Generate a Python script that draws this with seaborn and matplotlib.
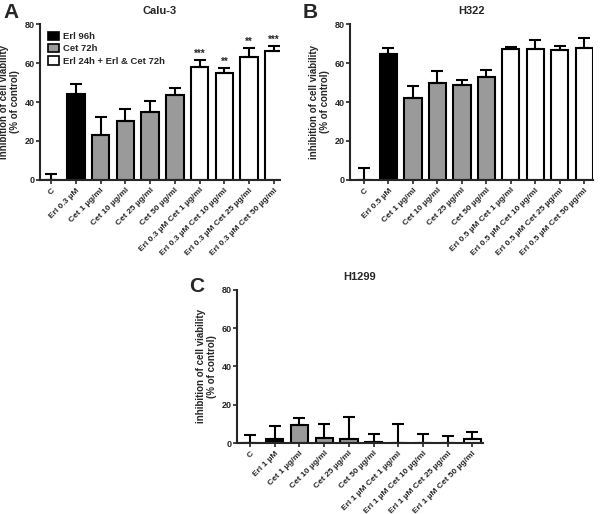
import numpy as np
import pandas as pd
import matplotlib.pyplot as plt
import seaborn as sns
from matplotlib.patches import Patch

# =========================================
# DATA
# =========================================

labels_a = ["C", "Erl 0.3 µM", "Cet 1 µg/ml", "Cet 10 µg/ml", "Cet 25 µg/ml", "Cet 50 µg/ml",
            "Erl 0.3 µM Cet 1 µg/ml", "Erl 0.3 µM Cet 10 µg/ml",
            "Erl 0.3 µM Cet 25 µg/ml", "Erl 0.3 µM Cet 50 µg/ml"]
mean_a = [0, 44, 23, 30, 35, 43.5, 58, 55, 63, 66]
err_a = [3, 5.5, 9.5, 6.5, 5.5, 3.5, 3.5, 2.5, 5, 3]
stars_a = ["", "", "", "", "", "", "***", "**", "**", "***"]

labels_b = ["C", "Erl 0.5 µM", "Cet 1 µg/ml", "Cet 10 µg/ml", "Cet 25 µg/ml", "Cet 50 µg/ml",
            "Erl 0.5 µM Cet 1 µg/ml", "Erl 0.5 µM Cet 10 µg/ml",
            "Erl 0.5 µM Cet 25 µg/ml", "Erl 0.5 µM Cet 50 µg/ml"]
mean_b = [0, 64.5, 42, 50, 48.5, 53, 67, 67, 66.5, 67.5]
err_b = [6, 3, 6, 6, 3, 3.5, 1.5, 5, 2.5, 5.5]

labels_c = ["C", "Erl 1 µM", "Cet 1 µg/ml", "Cet 10 µg/ml", "Cet 25 µg/ml", "Cet 50 µg/ml",
            "Erl 1 µM Cet 1 µg/ml", "Erl 1 µM Cet 10 µg/ml",
            "Erl 1 µM Cet 25 µg/ml", "Erl 1 µM Cet 50 µg/ml"]
mean_c = [0, 2, 9.5, 2.5, 2, 0.5, 0, 0, 0, 2]
err_c = [4.3, 7, 3.5, 7.5, 11.7, 4.2, 10, 4.7, 3.7, 4]

groups = ["none", "Erl", "Cet", "Cet", "Cet", "Cet", "Comb", "Comb", "Comb", "Comb"]
group_colors = {"none": "white", "Erl": "black", "Cet": "#9a9a9a", "Comb": "white"}
legend_names = ["Erl 96h", "Cet 72h", "Erl 24h + Erl & Cet 72h"]

# =========================================
# STYLE
# =========================================

sns.set_style("ticks")
plt.rcParams["font.family"] = ["Liberation Sans", "DejaVu Sans"]
plt.rcParams["font.weight"] = "bold"

fig = plt.figure(figsize=(6, 5.14), dpi=100)

ax_a = fig.add_axes([0.0667, 0.650, 0.400, 0.303])
ax_b = fig.add_axes([0.5833, 0.650, 0.405, 0.303])
ax_c = fig.add_axes([0.395, 0.138, 0.410, 0.298])


def draw_panel(ax, labels, means, errs, title, xlim):
    df = pd.DataFrame({"label": labels, "value": means, "group": groups})
    palette = {lab: group_colors[g] for lab, g in zip(labels, groups)}
    sns.barplot(data=df, x="label", y="value", hue="label", palette=palette,
                order=labels, width=0.7, edgecolor="black", linewidth=1.5,
                legend=False, ax=ax, errorbar=None)
    x = np.arange(len(labels))
    ax.errorbar(x, means, yerr=[np.zeros(len(errs)), errs], fmt="none",
                ecolor="black", elinewidth=1.5, capsize=4.5, capthick=1.5)
    ax.set_ylim(0, 80)
    ax.set_xlim(*xlim)
    ax.set_yticks([0, 20, 40, 60, 80])
    ax.set_xlabel("")
    ax.set_ylabel("inhibition of cell viability\n(% of control)",
                  fontsize=7, fontweight="bold", labelpad=3)
    ax.set_title(title, fontsize=8, fontweight="bold", pad=7)
    ax.set_xticks(x)
    ax.set_xticklabels(labels, rotation=45, ha="right", rotation_mode="anchor",
                       fontsize=6.0, fontweight="bold")
    ax.tick_params(axis="y", labelsize=6.5, length=3, width=1.2, pad=1)
    ax.tick_params(axis="x", length=3, width=1.2, pad=2)
    for s in ["left", "bottom"]:
        ax.spines[s].set_linewidth(1.5)
    sns.despine(ax=ax)


draw_panel(ax_a, labels_a, mean_a, err_a, "Calu-3", (-0.45, 9.25))
draw_panel(ax_b, labels_b, mean_b, err_b, "H322", (-0.57, 9.35))
draw_panel(ax_c, labels_c, mean_c, err_c, "H1299", (-0.53, 9.43))

# significance stars for panel A
for i, (m, e, s) in enumerate(zip(mean_a, err_a, stars_a)):
    if s:
        ax_a.text(i, m + e + 0.5, s, ha="center", va="bottom", fontsize=7,
                  fontweight="bold")

# legend for panel A
handles = [Patch(facecolor=c, edgecolor="black", linewidth=1.2)
           for c in ["black", "#9a9a9a", "white"]]
ax_a.legend(handles, legend_names, loc="upper left", frameon=False,
            handlelength=1.2, handleheight=1.0,
            labelspacing=0.3, handletextpad=0.4, borderaxespad=0.4,
            prop={"weight": "bold", "size": 6.8})

# panel letters
fig.text(0.005, 0.995, "A", fontsize=15, fontweight="bold", va="top")
fig.text(0.505, 0.995, "B", fontsize=15, fontweight="bold", va="top")
fig.text(0.315, 0.462, "C", fontsize=15, fontweight="bold", va="top")

fig.savefig("out.png", dpi=100)
